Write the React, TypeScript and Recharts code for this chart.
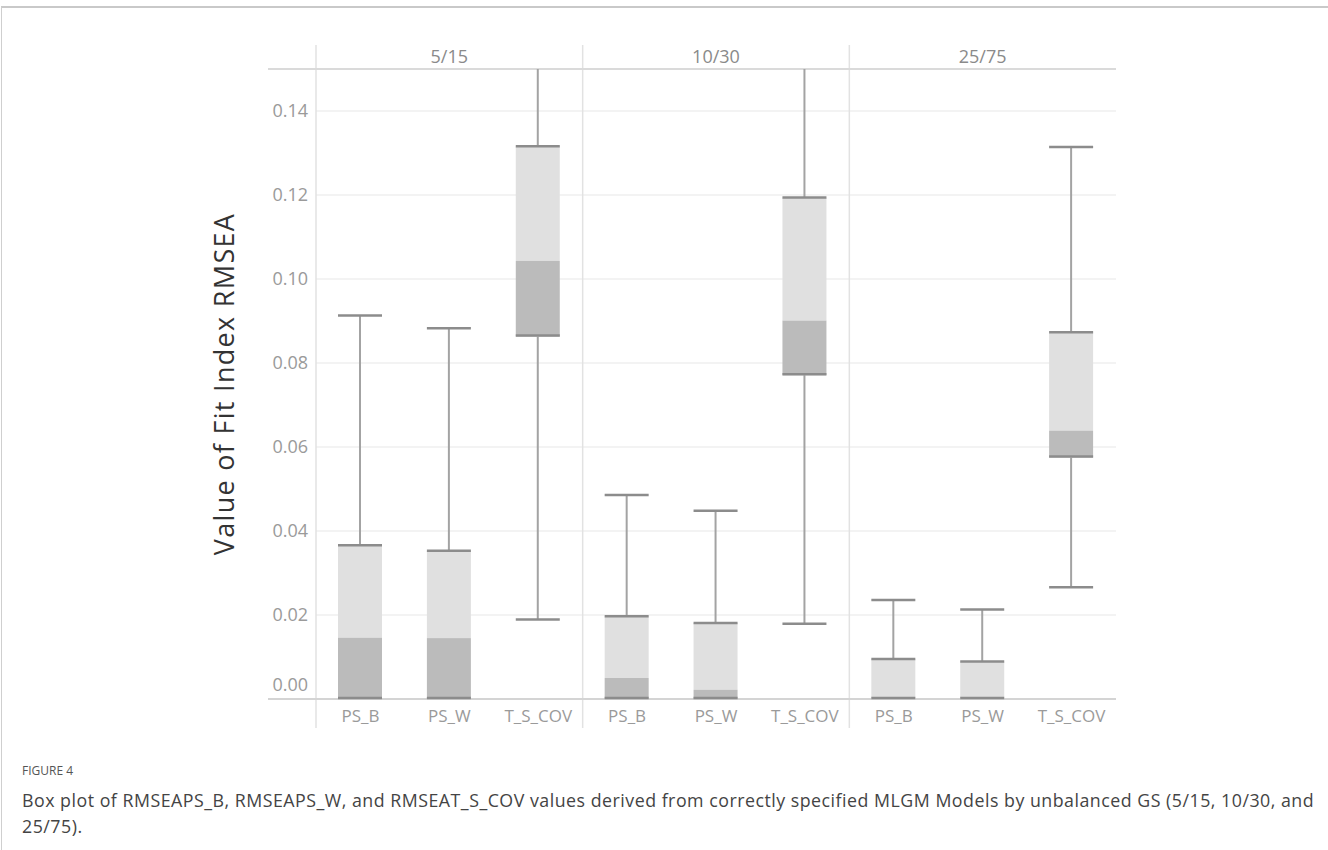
import { Bar, CartesianGrid, ComposedChart, XAxis, YAxis } from "recharts";

// Box plot of RMSEA by group-size condition (Tableau style, reproduced).
const PANELS = ["5/15", "10/30", "25/75"];
const GROUPS = ["PS_B", "PS_W", "T_S_COV"];

// one entry per box, panel by panel (PS_B, PS_W, T_S_COV)
const LOW = [0, 0, 0.0189, 0, 0, 0.0179, 0, 0, 0.0266];
const Q1 = [0, 0, 0.0863, 0, 0, 0.0771, 0, 0, 0.0575];
const MEDIAN = [0.0146, 0.0145, 0.1043, 0.005, 0.0022, 0.0901, 0, 0, 0.0639];
const Q3 = [0.0366, 0.0353, 0.1316, 0.0197, 0.0181, 0.1194, 0.0095, 0.0089, 0.0873];
// upper whiskers of T_S_COV in 5/15 and 10/30 run past the top of the axis
const HIGH = [0.0913, 0.0883, 0.16, 0.0486, 0.0448, 0.16, 0.0236, 0.0213, 0.1314];

const Y_TICKS = [0, 0.02, 0.04, 0.06, 0.08, 0.1, 0.12, 0.14];
const Y_MAX = 0.15;

const data = PANELS.flatMap((panel, p) =>
  GROUPS.map((group, g) => {
    const i = p * 3 + g;
    return {
      key: `${panel}|${group}`,
      panel,
      group,
      low: LOW[i],
      q1: Q1[i],
      median: MEDIAN[i],
      q3: Q3[i],
      high: HIGH[i],
    };
  })
);

const FONT = "'Open Sans', 'Noto Sans', sans-serif";
const CHART_W = 1328;
const CHART_H = 740;
const MARGIN = { top: 69, right: 212, bottom: 11, left: 216 };
const Y_AXIS_W = 100;
const X_AXIS_H = 30;
const PLOT_L = MARGIN.left + Y_AXIS_W;
const PLOT_R = CHART_W - MARGIN.right;
const PLOT_T = MARGIN.top;
const PLOT_B = CHART_H - MARGIN.bottom - X_AXIS_H;
const PANEL_W = (PLOT_R - PLOT_L) / PANELS.length;

const LIGHT = "#e0e0e0";
const DARK = "#bbbbbb";
const CAP = "#8c8c8c";
const WHISKER = "#a3a3a3";

function BoxShape(props: any) {
  const { x, y, width, height } = props;
  const d = props.payload ?? props;
  // the bar spans [low, q3]; place the other values on the same linear scale
  const span = d.q3 - d.low;
  const py = (v: number) => y + (height * (d.q3 - v)) / span;
  const cx = x + width / 2;
  const top = py(Y_MAX);
  const clipped = d.high > Y_MAX;
  const hiY = clipped ? top : py(d.high);
  return (
    <g>
      <line x1={cx} x2={cx} y1={py(d.q3)} y2={hiY} stroke={WHISKER} strokeWidth={2} />
      {d.low < d.q1 && (
        <line x1={cx} x2={cx} y1={py(d.q1)} y2={py(d.low)} stroke={WHISKER} strokeWidth={2} />
      )}
      <rect x={x} y={py(d.q3)} width={width} height={py(d.median) - py(d.q3)} fill={LIGHT} />
      <rect x={x} y={py(d.median)} width={width} height={py(d.q1) - py(d.median)} fill={DARK} />
      <line x1={x} x2={x + width} y1={py(d.q3)} y2={py(d.q3)} stroke={CAP} strokeWidth={2.5} />
      <line x1={x} x2={x + width} y1={py(d.q1) - 1} y2={py(d.q1) - 1} stroke={CAP} strokeWidth={2.5} />
      {!clipped && (
        <line x1={x} x2={x + width} y1={hiY} y2={hiY} stroke={CAP} strokeWidth={2.5} />
      )}
      {d.low < d.q1 && (
        <line x1={x} x2={x + width} y1={py(d.low)} y2={py(d.low)} stroke={CAP} strokeWidth={2.5} />
      )}
    </g>
  );
}

function YTick(props: any) {
  const { y, payload } = props;
  const isZero = payload.value === 0;
  return (
    <text
      x={PLOT_L - 8}
      y={y}
      dy={isZero ? -8 : 6}
      textAnchor="end"
      fontSize={18}
      fontFamily={FONT}
      fill="#9a9a9a"
    >
      {payload.value.toFixed(2)}
    </text>
  );
}

function XTick(props: any) {
  const { x, payload } = props;
  const group = String(payload.value).split("|")[1];
  return (
    <text x={x} y={PLOT_B} dy={23} textAnchor="middle" fontSize={17} fontFamily={FONT} fill="#9a9a9a">
      {group}
    </text>
  );
}

function PanelFrame() {
  return (
    <g>
      {PANELS.map((panel, i) => (
        <g key={panel}>
          <line
            x1={PLOT_L + i * PANEL_W}
            x2={PLOT_L + i * PANEL_W}
            y1={45}
            y2={728}
            stroke="#e2e2e2"
            strokeWidth={1.5}
          />
          <text
            x={PLOT_L + (i + 0.5) * PANEL_W}
            y={63}
            textAnchor="middle"
            fontSize={18}
            fontFamily={FONT}
            fill="#8a8a8a"
          >
            {panel}
          </text>
        </g>
      ))}
      <line x1={PLOT_L - 48} x2={PLOT_R} y1={PLOT_T} y2={PLOT_T} stroke="#dadada" strokeWidth={2} />
      <line x1={PLOT_L - 48} x2={PLOT_R} y1={PLOT_B} y2={PLOT_B} stroke="#d4d4d4" strokeWidth={2} />
      <text
        x={0}
        y={0}
        transform={`translate(234, ${(PLOT_T + PLOT_B) / 2}) rotate(-90)`}
        textAnchor="middle"
        fontSize={27}
        letterSpacing={1.3}
        fontFamily={FONT}
        fill="#333"
      >
        Value of Fit Index RMSEA
      </text>
    </g>
  );
}

export default function App() {
  return (
    <div
      style={{
        position: "absolute",
        left: 0,
        top: 0,
        width: 1328,
        height: 850,
        background: "#fff",
        overflow: "hidden",
      }}
    >
      <div
        style={{
          position: "absolute",
          left: 1,
          top: 6,
          right: -4,
          bottom: -4,
          borderTop: "2px solid #c9c9c9",
          borderLeft: "1px solid #cfcfcf",
        }}
      />
      <div style={{ position: "absolute", left: 0, top: 0 }}>
        <ComposedChart width={CHART_W} height={CHART_H} data={data} margin={MARGIN}>
          <PanelFrame />
          <CartesianGrid horizontal vertical={false} stroke="#efefef" strokeWidth={1.5} />
          <XAxis
            dataKey="key"
            type="category"
            interval={0}
            height={X_AXIS_H}
            axisLine={false}
            tickLine={false}
            tick={<XTick />}
          />
          <YAxis
            type="number"
            domain={[0, Y_MAX]}
            ticks={Y_TICKS}
            width={Y_AXIS_W}
            axisLine={false}
            tickLine={false}
            tick={<YTick />}
          />
          <Bar
            dataKey={(d: any) => [d.low, d.q3]}
            barSize={44}
            shape={<BoxShape />}
            isAnimationActive={false}
          />
        </ComposedChart>
      </div>
      <div
        style={{
          position: "absolute",
          left: 22,
          top: 763,
          fontFamily: FONT,
          color: "#555",
        }}
      >
        <div style={{ fontSize: 12, lineHeight: "16px" }}>FIGURE 4</div>
        <div
          style={{
            fontSize: 17.8,
            letterSpacing: 0.5,
            lineHeight: "26px",
            marginTop: 8,
            color: "#444",
            whiteSpace: "nowrap",
          }}
        >
          Box plot of RMSEAPS_B, RMSEAPS_W, and RMSEAT_S_COV values derived from correctly specified MLGM
          Models by unbalanced GS (5/15, 10/30, and
          <br />
          25/75).
        </div>
      </div>
    </div>
  );
}
